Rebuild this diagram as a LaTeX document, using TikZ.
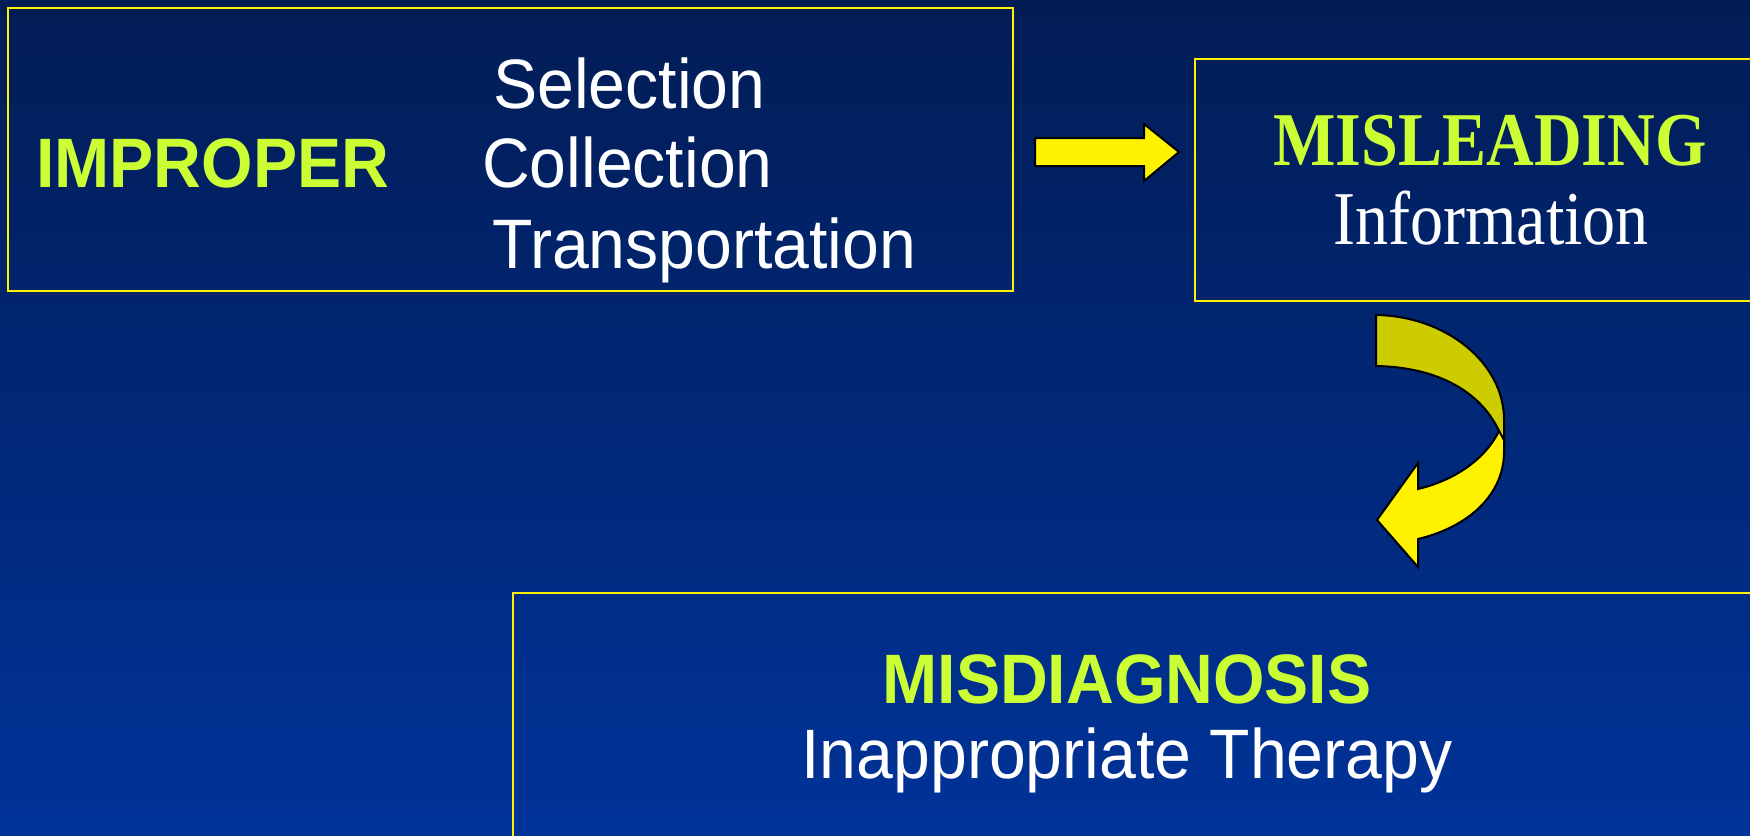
\documentclass[tikz,border=0pt]{standalone}
\usepackage{fontspec}
\newfontfamily\arialf[FakeStretch=0.945]{Liberation Sans}
\newfontfamily\timesf[FakeStretch=0.87]{Liberation Serif}
\definecolor{bgtop}{HTML}{021C55}
\definecolor{bgbot}{HTML}{003399}
\definecolor{lime}{HTML}{CCFF33}
\definecolor{darkyel}{HTML}{CCCC00}
\begin{document}
\begin{tikzpicture}[x=1pt,y=-1pt,
  box/.style={draw=yellow,line width=1.6pt},
  sans/.style={font=\arialf\fontsize{70}{80}\selectfont,inner sep=0pt},
  serif/.style={font=\timesf\fontsize{76}{80}\selectfont,inner sep=0pt},
  blockarrow/.style={draw=black,line width=2pt,line join=miter}]
\useasboundingbox (0,0) rectangle (1750,835);
\shade[top color=bgtop,bottom color=bgbot] (0,0) rectangle (1750,835);
% boxes
\draw[box] (8,8) rectangle (1013,291);
\draw[box] (1195,59) rectangle (1760,301);
\draw[box] (513,593) rectangle (1760,845);
% texts
\node[sans,text=lime,anchor=base west] (improper) at (36,187) {\bfseries IMPROPER};
\node[sans,text=white,anchor=base west] (sel) at (493,108) {Selection};
\node[sans,text=white,anchor=base west] (col) at (482,187) {Collection};
\node[sans,text=white,anchor=base west] (tra) at (492,268) {Transportation};
\node[serif,text=lime,anchor=base] (mis) at (1490,165) {\bfseries MISLEADING};
\node[serif,text=white,anchor=base] (inf) at (1491,244) {Information};
\node[sans,text=lime,anchor=base] (diag) at (1127,703) {\bfseries MISDIAGNOSIS};
\node[sans,text=white,anchor=base] (ther) at (1127,778) {Inappropriate Therapy};
% straight block arrow
\draw[blockarrow,fill=yellow] (1035,138) -- (1144,138) -- (1144,124) -- (1179,152)
  -- (1144,181) -- (1144,166) -- (1035,166) -- cycle;
% curved block arrow: back (dark) part
\draw[blockarrow,fill=darkyel] (1376,315) .. controls (1445,316) and (1504,362) .. (1504,420)
  -- (1504,446) -- (1499,431) .. controls (1480,390) and (1435,367) .. (1376,366) -- cycle;
% front (yellow) part
\draw[blockarrow,fill=yellow] (1499,431) .. controls (1486,458) and (1456,480) .. (1418,489)
  -- (1418,463) -- (1377,520) -- (1418,567) -- (1418,539)
  .. controls (1472,526) and (1504,492) .. (1504,452) -- (1504,440) -- cycle;
\end{tikzpicture}
\end{document}
